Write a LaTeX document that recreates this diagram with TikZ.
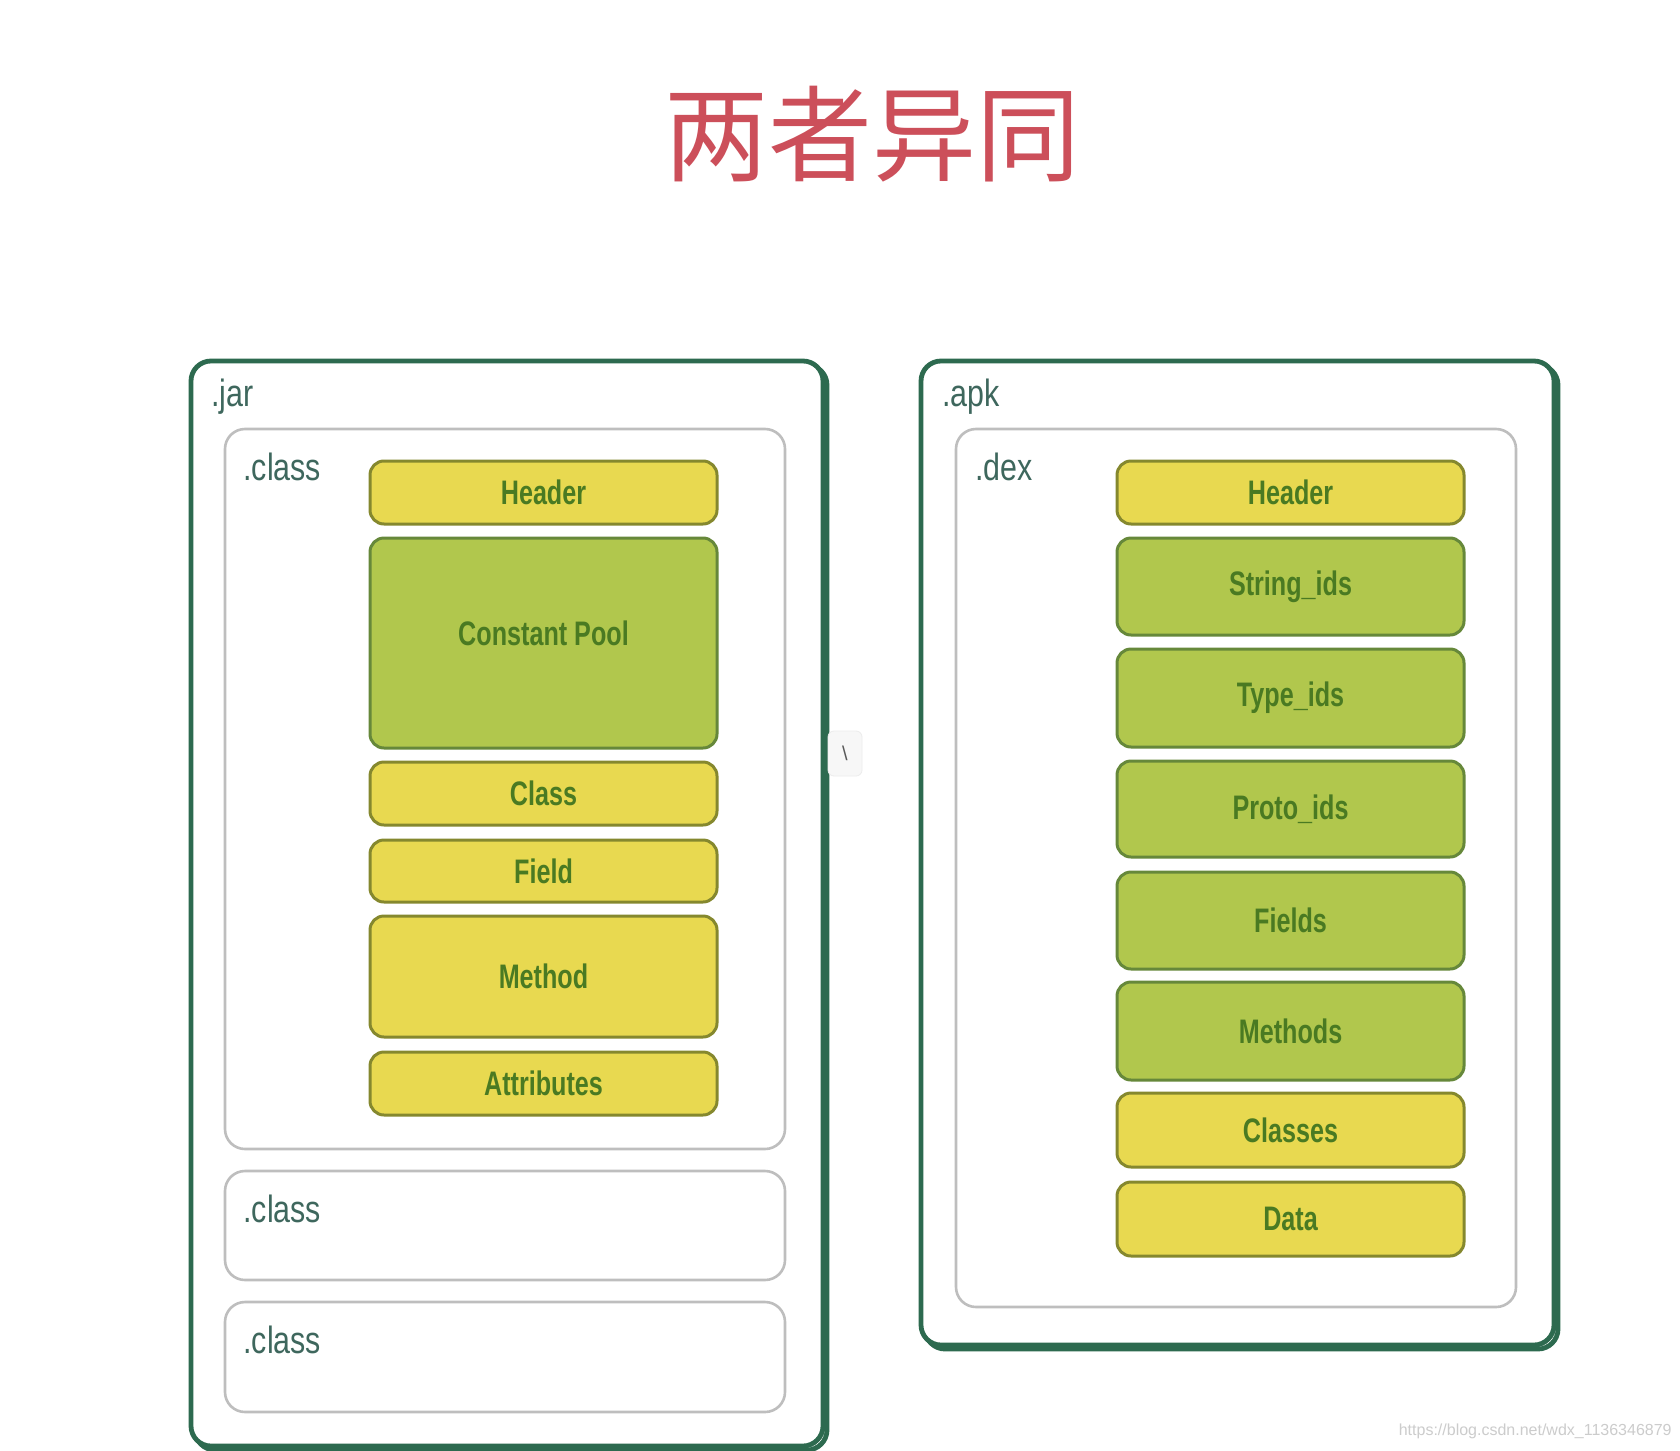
\documentclass[tikz,border=0pt]{standalone}
\usepackage{fontspec}
\setmainfont{Liberation Sans}
\newfontfamily\cond[FakeStretch=0.8]{Liberation Sans}
\newfontfamily\condb[FakeStretch=0.74]{Liberation Sans Bold}
\newfontfamily\cjk{Noto Sans CJK SC}
\usetikzlibrary{fit}
\definecolor{outerc}{HTML}{2D6A4F}
\definecolor{innerc}{HTML}{BEBEBE}
\definecolor{yelf}{HTML}{E8D950}
\definecolor{yelb}{HTML}{85882E}
\definecolor{grnf}{HTML}{B1C74D}
\definecolor{grnb}{HTML}{66883A}
\definecolor{itemtxt}{HTML}{4A7A22}
\definecolor{labtxt}{HTML}{3E675D}
\definecolor{titlec}{HTML}{CC4F5A}
\tikzset{
  outerbox/.style={draw=outerc, line width=2.4pt, rounded corners=10pt, inner sep=0pt},
  outershadow/.style={draw=outerc, line width=2.4pt, rounded corners=10pt, inner sep=0pt},
  innerbox/.style={draw=innerc, line width=1.3pt, rounded corners=10pt, inner sep=0pt},
  itemtext/.style={text=itemtxt, font=\condb\fontsize{17}{19}\selectfont},
  yelbox/.style={draw=yelb, fill=yelf, line width=1.5pt, rounded corners=7pt, inner sep=0pt},
  grnbox/.style={draw=grnb, fill=grnf, line width=1.5pt, rounded corners=7pt, inner sep=0pt},
  itemY/.style={yelbox, label={[itemtext]center:#1}},
  itemG/.style={grnbox, label={[itemtext]center:#1}},
  lab/.style={anchor=west, inner sep=0pt, text=labtxt, font=\cond\fontsize{19}{22}\selectfont},
}
\begin{document}
\begin{tikzpicture}[x=0.5pt, y=-0.5pt]
\useasboundingbox[fill=white] (0,0) rectangle (1680,1450);
% title
\node[text=titlec, font=\cjk\fontsize{52}{60}\selectfont] (title) at (872,134) {两者异同};
% outer boxes with shadow
\draw[outershadow] (195,365) rectangle (827,1450);
\node[outerbox, fill=white, fit={(191,361)(823,1446)}] (jar) {};
\draw[outershadow] (925,365) rectangle (1558,1349);
\node[outerbox, fill=white, fit={(921,361)(1554,1345)}] (apk) {};
\node[lab] (jarl) at (211,397) {.jar};
\node[lab] (apkl) at (942,397) {.apk};
% inner boxes
\node[innerbox, fit={(225,429)(785,1149)}] (cls1) {};
\node[innerbox, fit={(225,1171)(785,1280)}] (cls2) {};
\node[innerbox, fit={(225,1302)(785,1412)}] (cls3) {};
\node[innerbox, fit={(956,429)(1516,1307)}] (dex) {};
\node[lab] (cls1l) at (243,467) {.class};
\node[lab] (cls2l) at (243,1209) {.class};
\node[lab] (cls3l) at (243,1340) {.class};
\node[lab] (dexl) at (975,467) {.dex};
% left items
\node[itemY=Header, fit={(370,461)(717,524)}] (lh) {};
\node[grnbox, fit={(370,538)(717,748)}, label={[itemtext, yshift=5pt]center:Constant Pool}] (lcp) {};
\node[itemY=Class, fit={(370,762)(717,825)}] (lc) {};
\node[itemY=Field, fit={(370,840)(717,902)}] (lf) {};
\node[itemY=Method, fit={(370,916)(717,1037)}] (lm) {};
\node[itemY=Attributes, fit={(370,1052)(717,1115)}] (la) {};
% right items
\node[itemY=Header, fit={(1117,461)(1464,524)}] (rh) {};
\node[itemG=String\_ids, fit={(1117,538)(1464,635)}] (rs) {};
\node[itemG=Type\_ids, fit={(1117,649)(1464,747)}] (rt) {};
\node[itemG=Proto\_ids, fit={(1117,761)(1464,857)}] (rp) {};
\node[itemG=Fields, fit={(1117,872)(1464,969)}] (rf) {};
\node[itemG=Methods, fit={(1117,982)(1464,1080)}] (rm) {};
\node[itemY=Classes, fit={(1117,1093)(1464,1167)}] (rc) {};
\node[itemY=Data, fit={(1117,1182)(1464,1256)}] (rd) {};
% small artifact box
\node[draw=gray!15, fill=gray!6, rounded corners=3pt, inner sep=0pt, fit={(828,731)(862,776)},
  label={[text=gray!70!black, font=\fontsize{10}{12}\selectfont]center:\textbackslash}] (art) {};
% watermark
\node[anchor=east, inner sep=0pt, text=gray!40, font=\fontsize{8}{10}\selectfont] (wm) at (1672,1431) {https://blog.csdn.net/wdx\_1136346879};
\end{tikzpicture}
\end{document}
